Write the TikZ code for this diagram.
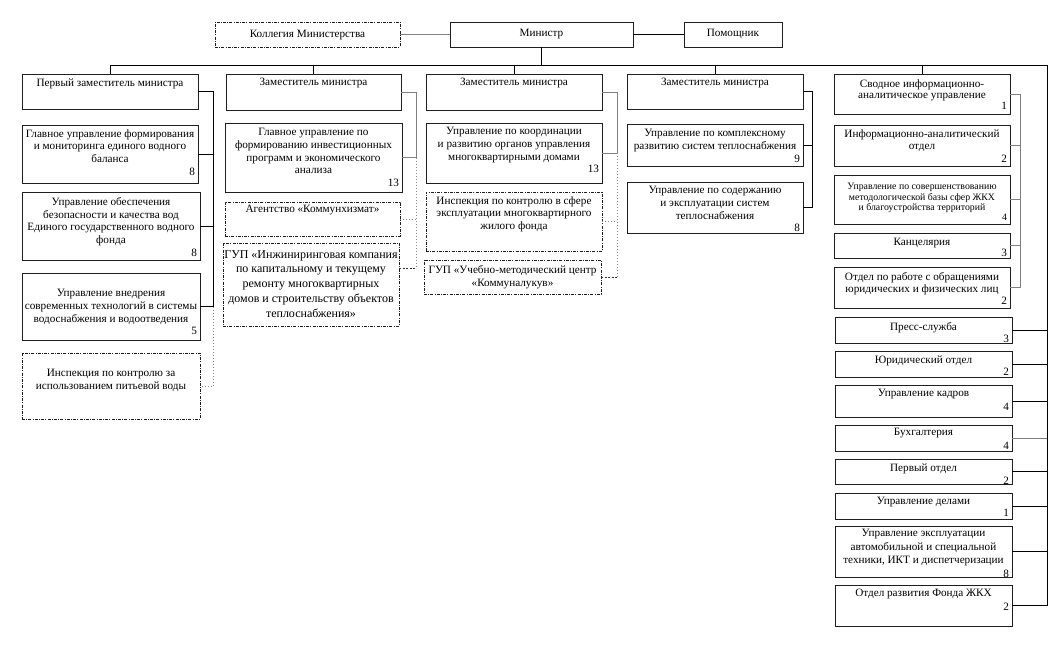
\documentclass[tikz,border=0pt]{standalone}
\usepackage{fontspec}
\setmainfont{Liberation Serif}
\newcommand\fA{\fontsize{11.2}{12.7}\selectfont}
\newcommand\fB{\fontsize{11.2}{11}\selectfont}
\newcommand\fC{\fontsize{11.2}{12}\selectfont}
\newcommand\fD{\fontsize{11.2}{13.5}\selectfont}
\newcommand\fS{\fontsize{9.8}{10.3}\selectfont}
\newcommand\fG{\fontsize{12}{14.7}\selectfont}
\newcommand\numr[1]{\makebox[\obt pt][r]{#1}}
% name, x1, y1, x2, y2, style, first-line offset, text, font
\newcommand\obx[9]{%
  \pgfmathsetmacro\obw{#4-#2}%
  \pgfmathsetmacro\obh{#5-#3}%
  \pgfmathsetmacro\obt{#4-#2-6}%
  \pgfmathsetmacro\obcx{(#2+#4)/2}%
  \pgfmathsetmacro\obty{#3+#7-3.8}%
  \node[#6, minimum width=\obw pt, minimum height=\obh pt, anchor=north west] (#1) at (#2,#3) {};
  \node[anchor=north, inner sep=0pt, align=center, font=#9] (#1t) at (\obcx,\obty) {#8};
}
\tikzset{
  box/.style={draw=black!88, line width=1pt, inner sep=0pt, outer sep=0pt},
  dbox/.style={box, line width=0.9pt, dash pattern=on 3pt off 1.2pt on 1pt off 1.2pt},
  conn/.style={draw=black, line width=1pt},
  gconn/.style={draw=black!50, line width=1pt},
  dotc/.style={draw=black!45, line width=1pt, dotted},
  dashc/.style={draw=black!80, line width=0.8pt, dash pattern=on 2pt off 1.5pt},
}
\begin{document}
\begin{tikzpicture}[x=1pt,y=-1pt]
\fill[white] (0,0) rectangle (1058,645);
\useasboundingbox (0,0) rectangle (1058,645);

% top row
\obx{kol}{215}{22}{400}{47}{dbox}{12}{Коллегия Министерства}{\fA}
\obx{min}{450}{22}{633}{47}{box}{11}{Министр}{\fA}
\obx{pom}{684}{22}{782}{47}{box}{11}{Помощник}{\fA}

% column heads
\obx{z1}{22}{74}{198}{109}{box}{8}{Первый заместитель министра}{\fA}
\obx{z2}{226}{74}{401}{110}{box}{8}{Заместитель министра}{\fA}
\obx{z3}{426}{74}{602}{110}{box}{8}{Заместитель министра}{\fA}
\obx{z4}{627}{74}{803}{109}{box}{8}{Заместитель министра}{\fA}
\obx{s1}{834}{74}{1010}{114}{box}{9}{Сводное информационно-\\аналитическое управление\\\numr{1}}{\fB}

% column 1
\obx{a1}{22}{125}{198}{183}{box}{8}{Главное управление формирования\\и мониторинга единого водного\\баланса\\\numr{8}}{\fA}
\obx{a2}{22}{192}{200}{260}{box}{9}{Управление обеспечения\\безопасности и качества вод\\Единого государственного водного\\фонда\\\numr{8}}{\fA}
\obx{a3}{22}{273}{200}{340}{box}{20}{Управление внедрения\\современных технологий в системы\\водоснабжения и водоотведения\\\numr{5}}{\fA}
\obx{a4}{22}{353}{200}{419}{dbox}{20}{Инспекция по контролю за\\использованием питьевой воды}{\fA}

% column 2
\obx{b1}{225}{123}{402}{192}{box}{9}{Главное управление по\\формированию инвестиционных\\программ и экономического\\анализа\\\numr{13}}{\fA}
\obx{b2}{225}{202}{400}{236}{dbox}{7}{Агентство «Коммунхизмат»}{\fA}
\obx{b3}{223}{243}{399}{326}{dbox}{11}{ГУП «Инжиниринговая компания\\по капитальному и текущему\\ремонту многоквартирных\\домов и строительству объектов\\теплоснабжения»}{\fG}

% column 3
\obx{c1}{426}{123}{602}{183}{box}{8}{Управление по координации\\и развитию органов управления\\многоквартирными домами\\\numr{13}}{\fA}
\obx{c2}{426}{192}{602}{251}{dbox}{8}{Инспекция по контролю в сфере\\эксплуатации многоквартирного\\жилого фонда}{\fA}
\obx{c3}{424}{260}{601}{294}{dbox}{9}{ГУП «Учебно-методический центр\\«Коммуналукув»}{\fA}

% column 4
\obx{d1}{627}{124}{803}{166}{box}{9}{Управление по комплексному\\развитию систем теплоснабжения\\\numr{9}}{\fA}
\obx{d2}{627}{182}{803}{233}{box}{8}{Управление по содержанию\\и эксплуатации систем\\теплоснабжения\\\numr{8}}{\fA}

% column 5
\obx{s2}{834}{125}{1010}{166}{box}{8}{Информационно-аналитический\\отдел\\\numr{2}}{\fA}
\obx{s3}{834}{175}{1010}{224}{box}{12}{Управление по совершенствованию\\методологической базы сфер ЖКХ\\и благоустройства территорий\\\numr{4}}{\fS}
\obx{s4}{834}{233}{1010}{258}{box}{9}{Канцелярия\\\numr{3}}{\fB}
\obx{s5}{834}{267}{1010}{308}{box}{9}{Отдел по работе с обращениями\\юридических и физических лиц\\\numr{2}}{\fC}
\obx{s6}{835}{317}{1012}{343}{box}{9}{Пресс-служба\\\numr{3}}{\fC}
\obx{s7}{835}{351}{1012}{377}{box}{8}{Юридический отдел\\\numr{2}}{\fC}
\obx{s8}{835}{385}{1012}{417}{box}{8}{Управление кадров\\\numr{4}}{\fD}
\obx{s9}{835}{425}{1012}{451}{box}{7}{Бухгалтерия\\\numr{4}}{\fD}
\obx{s10}{835}{459}{1012}{484}{box}{8}{Первый отдел\\\numr{2}}{\fD}
\obx{s11}{835}{493}{1012}{519}{box}{8}{Управление делами\\\numr{1}}{\fC}
\obx{s12}{835}{526}{1012}{577}{box}{7}{Управление эксплуатации\\автомобильной и специальной\\техники, ИКТ и диспетчеризации\\\numr{8}}{\fD}
\obx{s13}{835}{585}{1012}{626}{box}{8}{Отдел развития Фонда ЖКХ\\\numr{2}}{\fD}

% rail coordinates
\coordinate (busy) at (0,65);
\coordinate (busR) at (1047,65);
\coordinate (r1) at (213,0);
\coordinate (r2) at (416,0);
\coordinate (r3) at (617,0);
\coordinate (r4) at (812,0);
\coordinate (r5) at (1020,0);
\coordinate (b3c) at ([yshift=16pt]b3.east);

% top connectors
\draw[gconn] (kol.east) -- (min.west);
\draw[conn] (min.east) -- (pom.west);
\draw[conn] (min.south) -- (min.south |- busy);
\draw[conn] (z1.north |- busy) -- (busR);
\draw[conn] (z1.north) -- (z1.north |- busy);
\draw[conn] (z2.north) -- (z2.north |- busy);
\draw[conn] (z3.north) -- (z3.north |- busy);
\draw[conn] (z4.north) -- (z4.north |- busy);
\draw[conn] (s1.north) -- (s1.north |- busy);

% column 1
\draw[conn] (z1.east) -| (r1 |- a3.east) -- (a3.east);
\draw[conn] (a1.east) -- (a1.east -| r1);
\draw[conn] (a2.east) -- (a2.east -| r1);
\draw[dotc] (r1 |- a3.east) |- (a4.east);

% column 2
\draw[gconn] (z2.east) -| (r2 |- b1.east) -- (b1.east);
\draw[dotc] (r2 |- b1.east) -- (r2 |- b3c);
\draw[dotc] (b2.east) -- (b2.east -| r2);
\draw[dashc] (b3c) -- (b3c -| r2);

% column 3
\draw[gconn] (z3.east) -| (r3 |- c1.east) -- (c1.east);
\draw[dotc] (r3 |- c1.east) -- (r3 |- c3.east);
\draw[dotc] (c2.east) -- (c2.east -| r3);
\draw[dashc] (c3.east) -- (c3.east -| r3);

% column 4
\draw[conn] (z4.east) -| (r4 |- d2.east) -- (d2.east);
\draw[conn] (d1.east) -- (d1.east -| r4);

% column 5 inner rail
\draw[gconn] (s1.east) -| (r5 |- s5.east) -- (s5.east);
\draw[gconn] (s2.east) -- (s2.east -| r5);
\draw[gconn] (s3.east) -- (s3.east -| r5);
\draw[gconn] (s4.east) -- (s4.east -| r5);

% outer rail
\draw[conn] (busR) |- (s13.east);
\draw[conn] (s6.east) -- (s6.east -| busR);
\draw[conn] (s7.east) -- (s7.east -| busR);
\draw[conn] (s8.east) -- (s8.east -| busR);
\draw[gconn] (s9.east) -- (s9.east -| busR);
\draw[conn] (s10.east) -- (s10.east -| busR);
\draw[conn] (s11.east) -- (s11.east -| busR);
\draw[conn] (s12.east) -- (s12.east -| busR);
\end{tikzpicture}
\end{document}
